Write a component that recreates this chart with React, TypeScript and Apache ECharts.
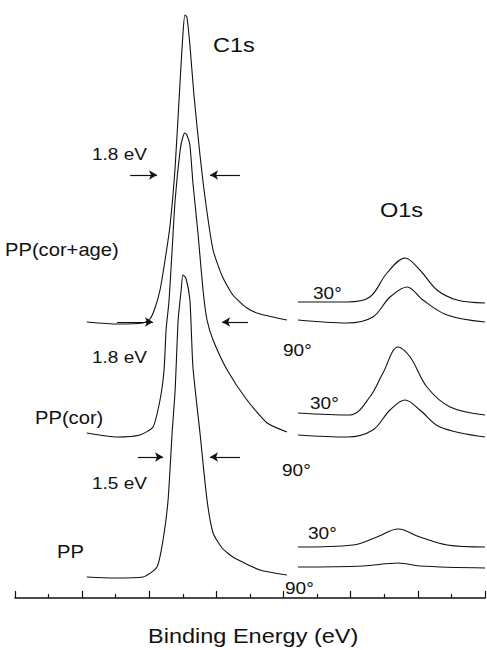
import React, { useEffect, useRef } from "react";
import * as echarts from "echarts";

// x in arbitrary binding-energy units (axis 0..14, no labels), y in arbitrary intensity units
const c1sCorAge: number[][] = [
  [2.14, 276], [3.04, 274], [3.81, 275], [4.02, 279], [4.17, 290], [4.32, 308], [4.47, 338],
  [4.62, 373], [4.77, 431], [4.92, 518], [5.0, 563], [5.06, 583], [5.12, 581], [5.21, 553],
  [5.33, 503], [5.51, 443], [5.69, 393], [5.9, 348], [6.17, 322], [6.49, 303], [6.91, 290],
  [7.3, 284], [8.1, 278],
];
const c1sCor: number[][] = [
  [2.14, 165], [3.04, 161], [3.72, 163], [4.11, 171], [4.32, 198], [4.44, 228], [4.5, 268],
  [4.59, 298], [4.68, 348], [4.77, 398], [4.92, 448], [5.0, 461], [5.06, 465], [5.12, 463],
  [5.21, 453], [5.3, 415], [5.45, 365], [5.6, 308], [5.72, 278], [5.9, 258], [6.32, 228],
  [6.91, 198], [7.51, 175], [8.1, 166],
];
const c1sPP: number[][] = [
  [2.14, 21], [2.92, 20], [3.81, 21], [4.23, 31], [4.41, 58], [4.56, 98], [4.68, 165],
  [4.77, 208], [4.86, 278], [4.95, 308], [5.0, 323], [5.09, 320], [5.21, 298], [5.3, 231],
  [5.51, 165], [5.72, 98], [5.9, 65], [6.17, 50], [6.49, 41], [7.3, 28], [8.1, 23],
];
const o1sCorAge30: number[][] = [
  [8.43, 296], [9.89, 296], [10.57, 301], [11.08, 325], [11.62, 340], [12.06, 328],
  [12.57, 308], [13.17, 298], [14.0, 295],
];
const o1sCorAge90: number[][] = [
  [8.43, 278], [9.89, 275], [10.66, 281], [11.17, 301], [11.68, 311], [12.15, 298],
  [12.87, 283], [14.0, 276],
];
const o1sCor30: number[][] = [
  [8.43, 185], [9.98, 183], [10.57, 201], [10.96, 225], [11.41, 251], [11.77, 241],
  [12.27, 211], [12.96, 191], [14.0, 183],
];
const o1sCor90: number[][] = [
  [8.43, 163], [9.89, 161], [10.66, 168], [11.17, 188], [11.62, 198], [12.06, 188],
  [12.66, 171], [14.0, 161],
];
const o1sPP30: number[][] = [
  [8.43, 51], [10.07, 53], [10.78, 61], [11.41, 69], [12.06, 61], [12.87, 53], [14.0, 51],
];
const o1sPP90: number[][] = [
  [8.43, 31], [10.37, 32], [11.41, 35], [12.06, 32], [14.0, 30],
];

// FWHM arrows: [fromX, toX, y]
const fwhmArrows: number[][] = [
  [3.43, 4.23, 423], [6.7, 5.81, 423],
  [3.04, 4.11, 276], [6.94, 6.17, 276],
  [3.66, 4.41, 141], [6.7, 5.81, 141],
];

const FONT = '"Liberation Sans", Arial, Helvetica, sans-serif';
const SX = 1.12;

function label(text: string, x: number, y: number, size: number) {
  return {
    type: "text",
    x,
    y,
    scaleX: SX,
    silent: true,
    style: {
      text,
      fontSize: size,
      fontFamily: FONT,
      fill: "#111",
      textAlign: "left",
      textVerticalAlign: "middle",
    },
  };
}

export default function App() {
  const ref = useRef<HTMLDivElement>(null);
  useEffect(() => {
    if (!ref.current) return;
    const chart = echarts.init(ref.current, undefined, { renderer: "svg" });
    const curve = (name: string, data: number[][], smooth: number) => ({
      name,
      type: "line",
      data,
      smooth,
      symbol: "none",
      lineStyle: { color: "#111", width: 1.1 },
      silent: true,
    });
    chart.setOption({
      animation: false,
      backgroundColor: "#fff",
      grid: { left: 15, right: 2, top: 0, bottom: 52 },
      xAxis: {
        type: "value",
        min: 0,
        max: 14,
        interval: 2,
        axisLine: { show: true, lineStyle: { color: "#111", width: 1.5 } },
        axisTick: { show: true, inside: true, length: 7, lineStyle: { color: "#111", width: 1.2 } },
        minorTick: { show: true, splitNumber: 2, length: 4, lineStyle: { color: "#111", width: 1.2 } },
        axisLabel: { show: false },
        splitLine: { show: false },
      },
      yAxis: { type: "value", min: 0, max: 598, show: false },
      series: [
        curve("PP(cor+age) C1s", c1sCorAge, 0.2),
        curve("PP(cor) C1s", c1sCor, 0.2),
        curve("PP C1s", c1sPP, 0.2),
        curve("PP(cor+age) O1s 30°", o1sCorAge30, 0.35),
        curve("PP(cor+age) O1s 90°", o1sCorAge90, 0.35),
        curve("PP(cor) O1s 30°", o1sCor30, 0.35),
        curve("PP(cor) O1s 90°", o1sCor90, 0.35),
        curve("PP O1s 30°", o1sPP30, 0.35),
        curve("PP O1s 90°", o1sPP90, 0.35),
        {
          type: "line",
          data: [],
          silent: true,
          markLine: {
            silent: true,
            symbol: ["none", "arrow"],
            symbolSize: [7, 8],
            label: { show: false },
            lineStyle: { color: "#111", width: 1.2, type: "solid" },
            data: fwhmArrows.map((a) => [{ coord: [a[0], a[2]] }, { coord: [a[1], a[2]] }]),
          },
        },
      ],
      graphic: [
        label("C1s", 213, 45, 21),
        label("O1s", 380, 210, 21),
        label("1.8 eV", 92, 154, 17),
        label("PP(cor+age)", 5, 250, 18),
        label("1.8 eV", 92, 357, 17),
        label("PP(cor)", 35, 418, 18),
        label("1.5 eV", 92, 483, 17),
        label("PP", 57, 552, 18),
        label("30°", 313, 293, 17),
        label("30°", 310, 403, 17),
        label("30°", 308, 533, 17),
        label("90°", 283, 350, 17),
        label("90°", 282, 470, 17),
        label("90°", 285, 588, 17),
        label("Binding Energy (eV)", 148, 636, 21),
      ],
    });
    return () => chart.dispose();
  }, []);
  return (
    <div
      ref={ref}
      style={{ position: "fixed", left: 0, top: 0, width: 487, height: 650, background: "#fff" }}
    />
  );
}
